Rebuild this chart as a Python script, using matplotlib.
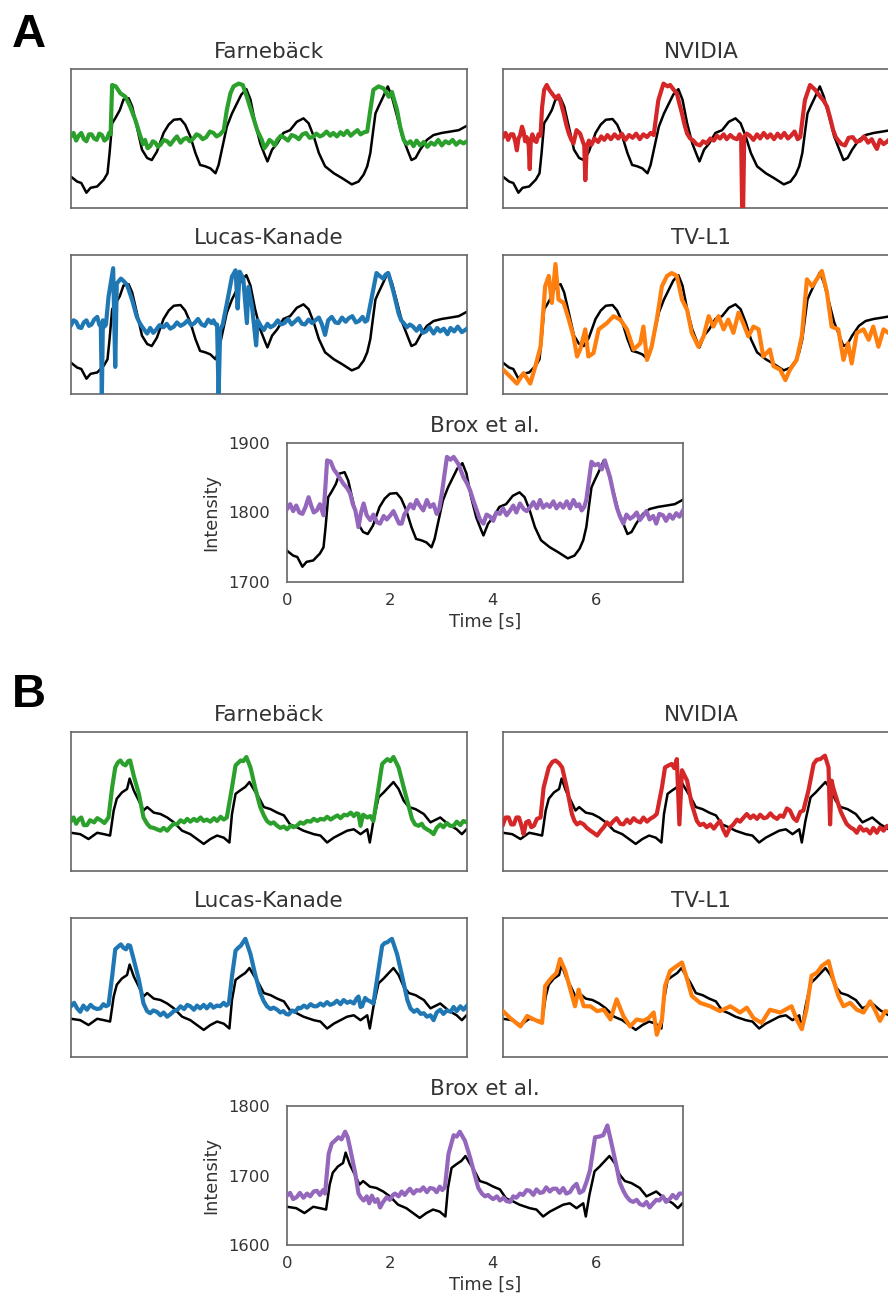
import matplotlib
matplotlib.use("Agg")
import matplotlib.pyplot as plt

# ---------------- DATA ----------------
methods = ["Farnebäck", "NVIDIA", "Lucas-Kanade", "TV-L1", "Brox et al."]
colors = ["#2ca02c", "#d62728", "#1f77b4", "#ff7f0e", "#9467bd"]
xticks = [0, 2, 4, 6]
A_yticks = [1700, 1800, 1900]
B_yticks = [1600, 1700, 1800]
x_label = "Time [s]"
y_label = "Intensity"

# (time [s], intensity) samples
A_truth = [(0.00, 1745), (0.12, 1738), (0.20, 1736), (0.30, 1722), (0.38, 1729),
           (0.51, 1731), (0.64, 1741), (0.71, 1750), (0.75, 1779), (0.80, 1822),
           (0.86, 1829), (0.95, 1841), (1.02, 1856), (1.12, 1858), (1.19, 1846),
           (1.28, 1817), (1.38, 1784), (1.48, 1772), (1.57, 1769), (1.67, 1781),
           (1.80, 1808), (1.90, 1820), (2.00, 1827), (2.13, 1828), (2.22, 1820),
           (2.32, 1803), (2.42, 1779), (2.51, 1762), (2.61, 1760), (2.71, 1757),
           (2.81, 1750), (2.87, 1762), (2.96, 1793), (3.03, 1817), (3.13, 1836),
           (3.23, 1851), (3.31, 1863), (3.41, 1871), (3.49, 1856), (3.58, 1822),
           (3.68, 1793), (3.78, 1774), (3.82, 1767), (3.91, 1784), (4.01, 1793),
           (4.13, 1808), (4.26, 1812), (4.39, 1824), (4.52, 1829), (4.62, 1822),
           (4.72, 1803), (4.82, 1779), (4.94, 1760), (5.11, 1750), (5.27, 1743),
           (5.46, 1734), (5.59, 1738), (5.69, 1748), (5.76, 1760), (5.82, 1779),
           (5.87, 1808), (5.92, 1836), (5.98, 1846), (6.07, 1860), (6.16, 1875),
           (6.24, 1860), (6.34, 1832), (6.44, 1803), (6.54, 1784), (6.62, 1769),
           (6.70, 1772), (6.79, 1784), (6.92, 1798), (7.05, 1805), (7.21, 1808),
           (7.38, 1810), (7.54, 1812), (7.69, 1818)]

A_farneback = [(0.00, 1803), (0.05, 1808), (0.10, 1797), (0.15, 1804), (0.20, 1808),
               (0.25, 1799), (0.30, 1796), (0.35, 1806), (0.40, 1806), (0.45, 1800),
               (0.50, 1798), (0.55, 1807), (0.60, 1805), (0.65, 1797), (0.70, 1800),
               (0.74, 1808), (0.77, 1806), (0.80, 1877), (0.87, 1875), (0.96, 1865),
               (1.06, 1860), (1.15, 1846), (1.25, 1827), (1.35, 1803), (1.40, 1792),
               (1.44, 1798), (1.49, 1786), (1.54, 1789), (1.59, 1796), (1.64, 1794),
               (1.69, 1788), (1.74, 1791), (1.80, 1798), (1.87, 1796), (1.93, 1791),
               (2.00, 1798), (2.06, 1803), (2.13, 1794), (2.19, 1799), (2.25, 1801),
               (2.31, 1796), (2.38, 1800), (2.44, 1806), (2.50, 1804), (2.56, 1799),
               (2.63, 1802), (2.70, 1810), (2.77, 1808), (2.83, 1803), (2.90, 1806),
               (2.97, 1812), (3.03, 1841), (3.10, 1865), (3.16, 1875), (3.26, 1879),
               (3.34, 1877), (3.42, 1860), (3.52, 1836), (3.62, 1812), (3.71, 1798),
               (3.76, 1786), (3.81, 1791), (3.86, 1798), (3.91, 1795), (3.96, 1790),
               (4.01, 1798), (4.08, 1804), (4.15, 1801), (4.22, 1797), (4.29, 1805),
               (4.36, 1803), (4.43, 1799), (4.50, 1806), (4.57, 1808), (4.64, 1801),
               (4.70, 1802), (4.77, 1807), (4.84, 1803), (4.90, 1805), (4.97, 1810),
               (5.04, 1804), (5.10, 1808), (5.17, 1803), (5.24, 1809), (5.30, 1805),
               (5.37, 1811), (5.44, 1804), (5.50, 1808), (5.57, 1812), (5.63, 1806),
               (5.70, 1809), (5.76, 1810), (5.82, 1841), (5.88, 1870), (5.98, 1875),
               (6.08, 1872), (6.18, 1860), (6.24, 1867), (6.34, 1841), (6.40, 1817),
               (6.47, 1798), (6.53, 1792), (6.60, 1796), (6.66, 1789), (6.72, 1797),
               (6.79, 1790), (6.86, 1795), (6.93, 1788), (7.00, 1794), (7.07, 1791),
               (7.14, 1798), (7.21, 1790), (7.28, 1796), (7.35, 1793), (7.42, 1798),
               (7.49, 1791), (7.56, 1796), (7.63, 1793), (7.70, 1796)]

A_nvidia = [(0.00, 1802), (0.05, 1808), (0.10, 1798), (0.15, 1806), (0.20, 1806),
            (0.24, 1795), (0.27, 1783), (0.30, 1800), (0.33, 1804), (0.37, 1817),
            (0.40, 1810), (0.43, 1796), (0.46, 1802), (0.50, 1790), (0.52, 1756),
            (0.54, 1798), (0.57, 1806), (0.61, 1797), (0.65, 1795), (0.69, 1806),
            (0.73, 1804), (0.76, 1845), (0.80, 1870), (0.85, 1877), (0.90, 1870),
            (0.95, 1865), (1.02, 1858), (1.08, 1862), (1.13, 1850), (1.18, 1836),
            (1.23, 1820), (1.28, 1807), (1.33, 1798), (1.37, 1793), (1.43, 1812),
            (1.50, 1807), (1.55, 1796), (1.58, 1790), (1.60, 1740), (1.63, 1788),
            (1.67, 1797), (1.72, 1791), (1.78, 1800), (1.85, 1795), (1.91, 1803),
            (1.97, 1798), (2.03, 1805), (2.10, 1799), (2.17, 1806), (2.24, 1800),
            (2.31, 1807), (2.38, 1798), (2.45, 1805), (2.52, 1801), (2.59, 1807),
            (2.66, 1799), (2.73, 1806), (2.80, 1802), (2.87, 1808), (2.93, 1805),
            (3.02, 1855), (3.12, 1879), (3.20, 1875), (3.25, 1877), (3.32, 1870),
            (3.38, 1865), (3.43, 1850), (3.48, 1836), (3.53, 1820), (3.58, 1807),
            (3.64, 1800), (3.70, 1797), (3.76, 1792), (3.83, 1790), (3.89, 1796),
            (3.96, 1793), (4.03, 1800), (4.10, 1797), (4.16, 1804), (4.22, 1800),
            (4.29, 1806), (4.35, 1799), (4.42, 1805), (4.48, 1801), (4.55, 1799),
            (4.60, 1806), (4.63, 1802), (4.66, 1650), (4.69, 1802), (4.74, 1807),
            (4.80, 1804), (4.87, 1798), (4.94, 1806), (5.00, 1800), (5.07, 1808),
            (5.14, 1801), (5.20, 1806), (5.27, 1799), (5.34, 1807), (5.40, 1801),
            (5.47, 1808), (5.54, 1800), (5.60, 1804), (5.67, 1810), (5.73, 1799),
            (5.78, 1802), (5.87, 1855), (5.97, 1877), (6.07, 1870), (6.17, 1860),
            (6.23, 1855), (6.30, 1846), (6.36, 1830), (6.42, 1812), (6.47, 1802),
            (6.52, 1797), (6.58, 1792), (6.65, 1790), (6.72, 1801), (6.80, 1802),
            (6.87, 1795), (6.95, 1797), (7.02, 1803), (7.10, 1794), (7.17, 1799),
            (7.23, 1790), (7.27, 1785), (7.33, 1798), (7.40, 1792), (7.46, 1795),
            (7.53, 1800), (7.60, 1794), (7.70, 1798)]

A_lucas = [(0.00, 1799), (0.05, 1806), (0.10, 1804), (0.15, 1796), (0.20, 1795),
           (0.25, 1803), (0.30, 1806), (0.35, 1798), (0.40, 1800), (0.45, 1807),
           (0.51, 1811), (0.55, 1800), (0.58, 1797), (0.60, 1696), (0.62, 1806),
           (0.65, 1797), (0.68, 1800), (0.73, 1840), (0.82, 1881), (0.86, 1739),
           (0.89, 1859), (0.97, 1866), (1.03, 1862), (1.09, 1857), (1.19, 1835),
           (1.28, 1811), (1.33, 1803), (1.38, 1797), (1.43, 1792), (1.48, 1787),
           (1.54, 1795), (1.60, 1788), (1.65, 1792), (1.72, 1799), (1.80, 1796),
           (1.86, 1801), (1.93, 1794), (2.00, 1797), (2.06, 1803), (2.13, 1798),
           (2.20, 1801), (2.27, 1806), (2.34, 1799), (2.40, 1802), (2.47, 1808),
           (2.54, 1800), (2.60, 1798), (2.67, 1807), (2.73, 1802), (2.77, 1806),
           (2.81, 1800), (2.84, 1800), (2.87, 1696), (2.90, 1792), (2.95, 1800),
           (3.03, 1830), (3.13, 1869), (3.20, 1878), (3.24, 1823), (3.28, 1876),
           (3.35, 1866), (3.42, 1802), (3.45, 1854), (3.52, 1826), (3.60, 1770),
           (3.63, 1806), (3.69, 1798), (3.75, 1792), (3.82, 1801), (3.88, 1796),
           (3.95, 1799), (4.02, 1806), (4.08, 1800), (4.15, 1802), (4.22, 1808),
           (4.29, 1800), (4.35, 1804), (4.42, 1809), (4.49, 1801), (4.55, 1800),
           (4.62, 1807), (4.69, 1802), (4.75, 1806), (4.82, 1810), (4.88, 1800),
           (4.94, 1785), (5.00, 1806), (5.07, 1811), (5.14, 1803), (5.20, 1802),
           (5.27, 1810), (5.34, 1804), (5.40, 1809), (5.47, 1812), (5.54, 1803),
           (5.60, 1805), (5.67, 1811), (5.72, 1804), (5.76, 1806), (5.85, 1840),
           (5.94, 1874), (6.00, 1870), (6.07, 1866), (6.12, 1872), (6.17, 1874),
           (6.27, 1847), (6.37, 1816), (6.42, 1806), (6.47, 1802), (6.53, 1796),
           (6.59, 1800), (6.65, 1797), (6.72, 1791), (6.78, 1798), (6.84, 1788),
           (6.90, 1790), (6.97, 1796), (7.05, 1787), (7.12, 1795), (7.18, 1790),
           (7.25, 1794), (7.32, 1786), (7.38, 1795), (7.45, 1790), (7.52, 1797),
           (7.60, 1789), (7.70, 1794)]

A_tvl1 = [(0.00, 1735), (0.14, 1725), (0.27, 1715), (0.40, 1730), (0.53, 1715),
          (0.63, 1740), (0.73, 1768), (0.82, 1855), (0.89, 1870), (0.95, 1831),
          (1.02, 1887), (1.08, 1836), (1.18, 1831), (1.28, 1807), (1.37, 1783),
          (1.44, 1754), (1.50, 1764), (1.60, 1793), (1.66, 1754), (1.76, 1759),
          (1.86, 1793), (2.02, 1802), (2.15, 1812), (2.28, 1807), (2.41, 1793),
          (2.54, 1764), (2.67, 1773), (2.73, 1797), (2.80, 1749), (2.89, 1768),
          (2.99, 1807), (3.09, 1855), (3.19, 1870), (3.28, 1874), (3.38, 1870),
          (3.48, 1836), (3.58, 1821), (3.67, 1788), (3.80, 1768), (3.90, 1783),
          (4.00, 1812), (4.09, 1797), (4.19, 1812), (4.29, 1793), (4.38, 1807),
          (4.48, 1788), (4.58, 1817), (4.67, 1802), (4.77, 1783), (4.87, 1797),
          (4.97, 1793), (5.06, 1754), (5.19, 1764), (5.26, 1740), (5.39, 1735),
          (5.49, 1720), (5.58, 1735), (5.71, 1749), (5.81, 1783), (5.91, 1865),
          (6.01, 1855), (6.10, 1865), (6.20, 1877), (6.30, 1846), (6.39, 1797),
          (6.52, 1793), (6.62, 1749), (6.71, 1773), (6.78, 1744), (6.88, 1788),
          (7.01, 1793), (7.11, 1778), (7.20, 1797), (7.30, 1768), (7.40, 1793),
          (7.49, 1788), (7.70, 1795)]

A_brox = [(0.00, 1805), (0.06, 1812), (0.12, 1802), (0.18, 1810), (0.24, 1800),
          (0.30, 1798), (0.36, 1808), (0.42, 1822), (0.47, 1810), (0.52, 1800),
          (0.58, 1803), (0.64, 1812), (0.71, 1796), (0.78, 1875), (0.85, 1873),
          (0.91, 1862), (0.97, 1856), (1.04, 1848), (1.10, 1841), (1.17, 1835),
          (1.23, 1827), (1.28, 1812), (1.33, 1803), (1.39, 1779), (1.44, 1800),
          (1.49, 1813), (1.55, 1796), (1.62, 1789), (1.68, 1797), (1.75, 1786),
          (1.81, 1784), (1.88, 1795), (1.94, 1790), (2.01, 1796), (2.07, 1802),
          (2.13, 1792), (2.18, 1784), (2.23, 1784), (2.28, 1797), (2.33, 1803),
          (2.40, 1812), (2.46, 1806), (2.52, 1818), (2.58, 1810), (2.65, 1803),
          (2.72, 1818), (2.78, 1808), (2.85, 1812), (2.91, 1798), (2.96, 1805),
          (3.01, 1827), (3.11, 1880), (3.18, 1876), (3.24, 1880), (3.33, 1870),
          (3.43, 1851), (3.50, 1842), (3.56, 1832), (3.62, 1818), (3.69, 1803),
          (3.75, 1790), (3.82, 1784), (3.88, 1797), (3.95, 1794), (4.01, 1788),
          (4.07, 1800), (4.14, 1798), (4.20, 1806), (4.27, 1796), (4.34, 1803),
          (4.40, 1810), (4.46, 1800), (4.53, 1813), (4.60, 1805), (4.66, 1802),
          (4.73, 1808), (4.79, 1815), (4.86, 1806), (4.92, 1818), (4.98, 1807),
          (5.05, 1812), (5.11, 1808), (5.18, 1816), (5.24, 1806), (5.31, 1813),
          (5.37, 1807), (5.44, 1816), (5.50, 1806), (5.57, 1818), (5.63, 1809),
          (5.68, 1812), (5.73, 1803), (5.78, 1808), (5.82, 1818), (5.92, 1873),
          (5.98, 1868), (6.05, 1870), (6.12, 1862), (6.18, 1875), (6.28, 1851),
          (6.34, 1830), (6.41, 1808), (6.47, 1795), (6.54, 1784), (6.60, 1797),
          (6.67, 1791), (6.73, 1794), (6.80, 1800), (6.86, 1789), (6.93, 1796),
          (6.99, 1802), (7.05, 1790), (7.12, 1795), (7.18, 1784), (7.24, 1798),
          (7.31, 1796), (7.37, 1788), (7.44, 1797), (7.50, 1791), (7.57, 1799),
          (7.63, 1794), (7.70, 1803)]

B_truth = [(0.00, 1655), (0.18, 1653), (0.34, 1646), (0.51, 1655), (0.64, 1653),
           (0.76, 1651), (0.83, 1687), (0.89, 1704), (0.99, 1713), (1.09, 1718),
           (1.14, 1733), (1.22, 1716), (1.32, 1701), (1.41, 1687), (1.48, 1692),
           (1.61, 1684), (1.74, 1682), (1.87, 1677), (2.00, 1670), (2.16, 1658),
           (2.32, 1653), (2.45, 1646), (2.58, 1639), (2.71, 1646), (2.84, 1651),
           (2.97, 1648), (3.08, 1641), (3.13, 1682), (3.20, 1711), (3.29, 1716),
           (3.39, 1721), (3.47, 1728), (3.55, 1718), (3.65, 1706), (3.75, 1692),
           (3.88, 1689), (4.01, 1684), (4.14, 1680), (4.26, 1667), (4.39, 1663),
           (4.52, 1658), (4.72, 1653), (4.85, 1651), (4.98, 1641), (5.11, 1648),
           (5.24, 1653), (5.37, 1658), (5.50, 1660), (5.63, 1653), (5.76, 1660),
           (5.81, 1641), (5.88, 1672), (5.98, 1706), (6.08, 1713), (6.18, 1721),
           (6.27, 1728), (6.37, 1718), (6.47, 1701), (6.57, 1692), (6.70, 1689),
           (6.86, 1682), (6.99, 1670), (7.18, 1677), (7.34, 1667), (7.50, 1660),
           (7.60, 1653), (7.69, 1660)]

B_farneback = [(0.00, 1672), (0.05, 1677), (0.10, 1668), (0.15, 1674), (0.20, 1677),
               (0.25, 1666), (0.31, 1666), (0.37, 1673), (0.45, 1670), (0.51, 1676),
               (0.58, 1673), (0.65, 1669), (0.73, 1677), (0.80, 1720), (0.86, 1749),
               (0.91, 1756), (0.96, 1759), (1.01, 1754), (1.06, 1752), (1.11, 1758),
               (1.15, 1759), (1.22, 1737), (1.32, 1711), (1.41, 1677), (1.48, 1668),
               (1.54, 1663), (1.61, 1662), (1.67, 1660), (1.74, 1658), (1.80, 1662),
               (1.87, 1658), (1.94, 1664), (2.00, 1668), (2.06, 1667), (2.13, 1673),
               (2.20, 1670), (2.26, 1675), (2.32, 1671), (2.39, 1675), (2.45, 1672),
               (2.52, 1677), (2.58, 1672), (2.64, 1674), (2.71, 1671), (2.78, 1676),
               (2.84, 1672), (2.91, 1678), (2.97, 1674), (3.03, 1677), (3.13, 1720),
               (3.20, 1752), (3.30, 1759), (3.35, 1758), (3.41, 1764), (3.49, 1749),
               (3.58, 1720), (3.68, 1692), (3.75, 1680), (3.81, 1672), (3.88, 1668),
               (3.94, 1670), (4.01, 1665), (4.07, 1662), (4.14, 1664), (4.20, 1660),
               (4.27, 1665), (4.33, 1663), (4.39, 1665), (4.46, 1670), (4.52, 1668),
               (4.59, 1672), (4.66, 1671), (4.72, 1675), (4.79, 1672), (4.85, 1675),
               (4.92, 1674), (4.98, 1678), (5.05, 1674), (5.11, 1677), (5.18, 1680),
               (5.24, 1676), (5.31, 1681), (5.37, 1680), (5.44, 1684), (5.50, 1679),
               (5.55, 1683), (5.59, 1682), (5.63, 1665), (5.68, 1681), (5.76, 1677),
               (5.82, 1679), (5.88, 1672), (5.98, 1720), (6.05, 1754), (6.15, 1761),
               (6.21, 1758), (6.27, 1764), (6.37, 1749), (6.47, 1720), (6.57, 1692),
               (6.63, 1675), (6.69, 1667), (6.76, 1665), (6.82, 1668), (6.86, 1663),
               (6.92, 1660), (6.99, 1657), (7.05, 1653), (7.11, 1662), (7.18, 1667),
               (7.24, 1663), (7.31, 1669), (7.37, 1665), (7.44, 1665), (7.50, 1671),
               (7.57, 1666), (7.63, 1672), (7.69, 1670)]

B_nvidia = [(0.00, 1667), (0.05, 1677), (0.11, 1677), (0.16, 1667), (0.21, 1667),
            (0.26, 1677), (0.31, 1677), (0.36, 1665), (0.40, 1653), (0.45, 1670),
            (0.50, 1672), (0.55, 1663), (0.60, 1665), (0.66, 1675), (0.73, 1677),
            (0.79, 1720), (0.89, 1749), (0.96, 1757), (1.02, 1759), (1.09, 1755),
            (1.15, 1749), (1.24, 1720), (1.34, 1682), (1.39, 1672), (1.44, 1667),
            (1.50, 1670), (1.57, 1667), (1.63, 1662), (1.70, 1658), (1.76, 1655),
            (1.83, 1651), (1.90, 1658), (1.96, 1663), (2.02, 1670), (2.08, 1666),
            (2.15, 1672), (2.21, 1676), (2.28, 1668), (2.34, 1667), (2.41, 1674),
            (2.47, 1669), (2.54, 1676), (2.60, 1672), (2.67, 1670), (2.73, 1677),
            (2.80, 1671), (2.86, 1675), (2.93, 1678), (2.99, 1682), (3.09, 1720),
            (3.15, 1749), (3.22, 1752), (3.28, 1754), (3.33, 1748), (3.38, 1761),
            (3.43, 1667), (3.48, 1745), (3.58, 1730), (3.67, 1696), (3.77, 1672),
            (3.83, 1666), (3.90, 1668), (3.96, 1663), (4.03, 1667), (4.10, 1661),
            (4.16, 1667), (4.22, 1672), (4.28, 1660), (4.34, 1651), (4.41, 1662),
            (4.48, 1667), (4.55, 1674), (4.61, 1671), (4.68, 1677), (4.74, 1682),
            (4.81, 1676), (4.87, 1680), (4.94, 1675), (5.00, 1681), (5.07, 1676),
            (5.13, 1677), (5.20, 1683), (5.26, 1678), (5.33, 1675), (5.39, 1680),
            (5.45, 1678), (5.52, 1690), (5.58, 1687), (5.65, 1676), (5.71, 1672),
            (5.78, 1685), (5.84, 1687), (5.94, 1716), (6.04, 1754), (6.10, 1760),
            (6.17, 1761), (6.26, 1766), (6.33, 1749), (6.36, 1667), (6.39, 1730),
            (6.42, 1720), (6.52, 1696), (6.57, 1685), (6.62, 1677), (6.68, 1668),
            (6.75, 1663), (6.82, 1660), (6.88, 1655), (6.94, 1664), (7.01, 1658),
            (7.07, 1660), (7.14, 1654), (7.20, 1662), (7.27, 1655), (7.33, 1663),
            (7.40, 1658), (7.47, 1665), (7.54, 1661), (7.61, 1667), (7.70, 1668)]

B_lucas = [(0.00, 1673), (0.06, 1678), (0.12, 1670), (0.18, 1665), (0.24, 1674),
           (0.31, 1668), (0.38, 1675), (0.44, 1671), (0.51, 1669), (0.57, 1670),
           (0.63, 1676), (0.68, 1673), (0.73, 1675), (0.80, 1716), (0.86, 1755),
           (0.92, 1759), (0.97, 1762), (1.02, 1757), (1.07, 1755), (1.11, 1761),
           (1.15, 1760), (1.22, 1740), (1.32, 1711), (1.41, 1677), (1.48, 1666),
           (1.54, 1663), (1.60, 1667), (1.67, 1665), (1.74, 1660), (1.80, 1664),
           (1.87, 1658), (1.94, 1662), (2.00, 1666), (2.07, 1668), (2.13, 1673),
           (2.20, 1669), (2.26, 1675), (2.32, 1673), (2.39, 1668), (2.45, 1674),
           (2.51, 1670), (2.58, 1675), (2.64, 1670), (2.71, 1676), (2.77, 1671),
           (2.84, 1674), (2.90, 1673), (2.97, 1678), (3.02, 1674), (3.07, 1677),
           (3.13, 1716), (3.20, 1753), (3.25, 1757), (3.30, 1760), (3.39, 1770),
           (3.49, 1748), (3.58, 1719), (3.68, 1692), (3.75, 1680), (3.81, 1673),
           (3.88, 1669), (3.94, 1671), (4.01, 1668), (4.07, 1664), (4.13, 1666),
           (4.18, 1662), (4.23, 1661), (4.30, 1667), (4.36, 1665), (4.42, 1671),
           (4.46, 1670), (4.53, 1674), (4.59, 1671), (4.66, 1676), (4.72, 1673),
           (4.78, 1673), (4.85, 1677), (4.91, 1674), (4.98, 1679), (5.04, 1675),
           (5.11, 1677), (5.17, 1681), (5.24, 1676), (5.30, 1682), (5.37, 1678),
           (5.43, 1680), (5.50, 1677), (5.55, 1684), (5.59, 1687), (5.63, 1672),
           (5.66, 1673), (5.72, 1685), (5.76, 1682), (5.82, 1680), (5.88, 1677),
           (5.98, 1726), (6.05, 1760), (6.10, 1764), (6.15, 1765), (6.20, 1768),
           (6.24, 1770), (6.34, 1748), (6.44, 1716), (6.54, 1682), (6.60, 1670),
           (6.67, 1665), (6.73, 1668), (6.80, 1662), (6.86, 1663), (6.92, 1658),
           (6.99, 1660), (7.05, 1653), (7.11, 1664), (7.18, 1668), (7.24, 1662),
           (7.31, 1667), (7.38, 1665), (7.44, 1672), (7.50, 1666), (7.57, 1673),
           (7.63, 1668), (7.69, 1673)]

B_tvl1 = [(0.00, 1666), (0.14, 1656), (0.34, 1644), (0.47, 1659), (0.60, 1654),
          (0.76, 1649), (0.82, 1702), (0.92, 1712), (1.04, 1721), (1.11, 1741),
          (1.21, 1724), (1.31, 1697), (1.40, 1673), (1.47, 1697), (1.57, 1673),
          (1.70, 1673), (1.83, 1666), (1.96, 1668), (2.09, 1654), (2.21, 1683),
          (2.34, 1659), (2.47, 1644), (2.60, 1654), (2.73, 1652), (2.83, 1656),
          (2.93, 1664), (2.99, 1632), (3.09, 1654), (3.15, 1702), (3.25, 1724),
          (3.38, 1731), (3.48, 1736), (3.58, 1712), (3.67, 1688), (3.83, 1678),
          (4.03, 1673), (4.22, 1666), (4.42, 1673), (4.61, 1664), (4.74, 1671),
          (4.87, 1656), (5.03, 1649), (5.19, 1668), (5.39, 1664), (5.61, 1673),
          (5.71, 1654), (5.81, 1640), (5.90, 1668), (6.00, 1717), (6.10, 1721),
          (6.20, 1731), (6.33, 1738), (6.42, 1712), (6.52, 1688), (6.62, 1673),
          (6.75, 1678), (6.88, 1668), (7.01, 1664), (7.14, 1680), (7.23, 1668),
          (7.33, 1652), (7.43, 1666), (7.70, 1662)]

B_brox = [(0.00, 1671), (0.06, 1675), (0.12, 1666), (0.19, 1669), (0.25, 1675),
          (0.32, 1668), (0.39, 1674), (0.45, 1670), (0.52, 1677), (0.58, 1678),
          (0.64, 1672), (0.70, 1679), (0.74, 1674), (0.81, 1731), (0.87, 1746),
          (0.93, 1750), (1.00, 1755), (1.06, 1752), (1.13, 1763), (1.18, 1755),
          (1.23, 1738), (1.33, 1702), (1.39, 1674), (1.44, 1668), (1.49, 1664),
          (1.55, 1670), (1.60, 1660), (1.65, 1671), (1.71, 1662), (1.76, 1666),
          (1.81, 1654), (1.87, 1662), (1.94, 1669), (2.00, 1665), (2.06, 1672),
          (2.10, 1674), (2.17, 1670), (2.23, 1677), (2.29, 1672), (2.33, 1676),
          (2.39, 1681), (2.46, 1674), (2.52, 1679), (2.59, 1678), (2.65, 1683),
          (2.72, 1676), (2.78, 1682), (2.85, 1681), (2.91, 1676), (2.97, 1684),
          (3.02, 1679), (3.07, 1683), (3.14, 1731), (3.24, 1758), (3.30, 1756),
          (3.36, 1763), (3.46, 1750), (3.56, 1726), (3.66, 1698), (3.72, 1682),
          (3.79, 1674), (3.85, 1670), (3.91, 1672), (3.95, 1669), (4.01, 1666),
          (4.08, 1670), (4.14, 1664), (4.21, 1668), (4.27, 1663), (4.34, 1662),
          (4.40, 1670), (4.46, 1668), (4.53, 1674), (4.59, 1672), (4.66, 1679),
          (4.72, 1678), (4.79, 1672), (4.85, 1680), (4.92, 1675), (4.98, 1676),
          (5.04, 1683), (5.11, 1677), (5.17, 1681), (5.24, 1681), (5.30, 1675),
          (5.37, 1682), (5.43, 1674), (5.50, 1676), (5.56, 1683), (5.63, 1688),
          (5.69, 1675), (5.76, 1678), (5.82, 1690), (5.89, 1707), (5.99, 1755),
          (6.07, 1756), (6.15, 1758), (6.23, 1772), (6.31, 1746), (6.41, 1712),
          (6.47, 1690), (6.54, 1678), (6.60, 1670), (6.67, 1664), (6.73, 1662),
          (6.80, 1665), (6.86, 1659), (6.93, 1657), (6.99, 1662), (7.05, 1654),
          (7.12, 1660), (7.18, 1665), (7.24, 1664), (7.31, 1670), (7.37, 1662),
          (7.44, 1666), (7.50, 1672), (7.57, 1667), (7.63, 1674), (7.69, 1674)]

panels = [
    ("A", A_truth, A_yticks, [A_farneback, A_nvidia, A_lucas, A_tvl1, A_brox]),
    ("B", B_truth, B_yticks, [B_farneback, B_nvidia, B_lucas, B_tvl1, B_brox]),
]

# ---------------- LAYOUT ----------------
W, H = 888, 1302
fig = plt.figure(figsize=(W / 100, H / 100), dpi=100)
fig.patch.set_facecolor("white")

TXT = "0.2"
AX_W, AX_H = 396, 139
slot_pos = [(71, 69), (503, 69), (71, 255), (503, 255), (287, 443)]
panel_offset = [0, 663]
letter_base = [47, 707]


def add_ax(left, top):
    return fig.add_axes([left / W, 1 - (top + AX_H) / H, AX_W / W, AX_H / H])


def unzip(pairs):
    return [p[0] for p in pairs], [p[1] for p in pairs]


for p, (letter, truth, yt, series) in enumerate(panels):
    off = panel_offset[p]
    fig.text(12 / W, 1 - letter_base[p] / H, letter, fontsize=34,
             fontweight="bold", family="Liberation Sans", va="baseline",
             ha="left", color="black")
    tt, ti = unzip(truth)
    for k in range(5):
        lx, ty = slot_pos[k]
        ax = add_ax(lx, ty + off)
        st, si = unzip(series[k])
        ax.plot(tt, ti, color="black", lw=1.8, zorder=2)
        ax.plot(st, si, color=colors[k], lw=3.0, zorder=3)
        ax.set_xlim(0, 7.7)
        ax.set_ylim(yt[0], yt[-1])
        ax.set_title(methods[k], fontsize=15.5, color=TXT, pad=8)
        for s in ax.spines.values():
            s.set_color("0.4")
            s.set_linewidth(1.2)
        if k == 4:
            ax.set_xticks(xticks)
            ax.set_yticks(yt)
            ax.tick_params(axis="both", length=0, labelsize=11.8, colors=TXT)
            ax.tick_params(axis="x", pad=8)
            ax.tick_params(axis="y", pad=12)
            ax.set_xlabel(x_label, fontsize=12.8, color=TXT, labelpad=3)
            ax.set_ylabel(y_label, fontsize=12.8, color=TXT, labelpad=6)
        else:
            ax.set_xticks([])
            ax.set_yticks([])

fig.savefig("out.png", dpi=100, facecolor="white")
